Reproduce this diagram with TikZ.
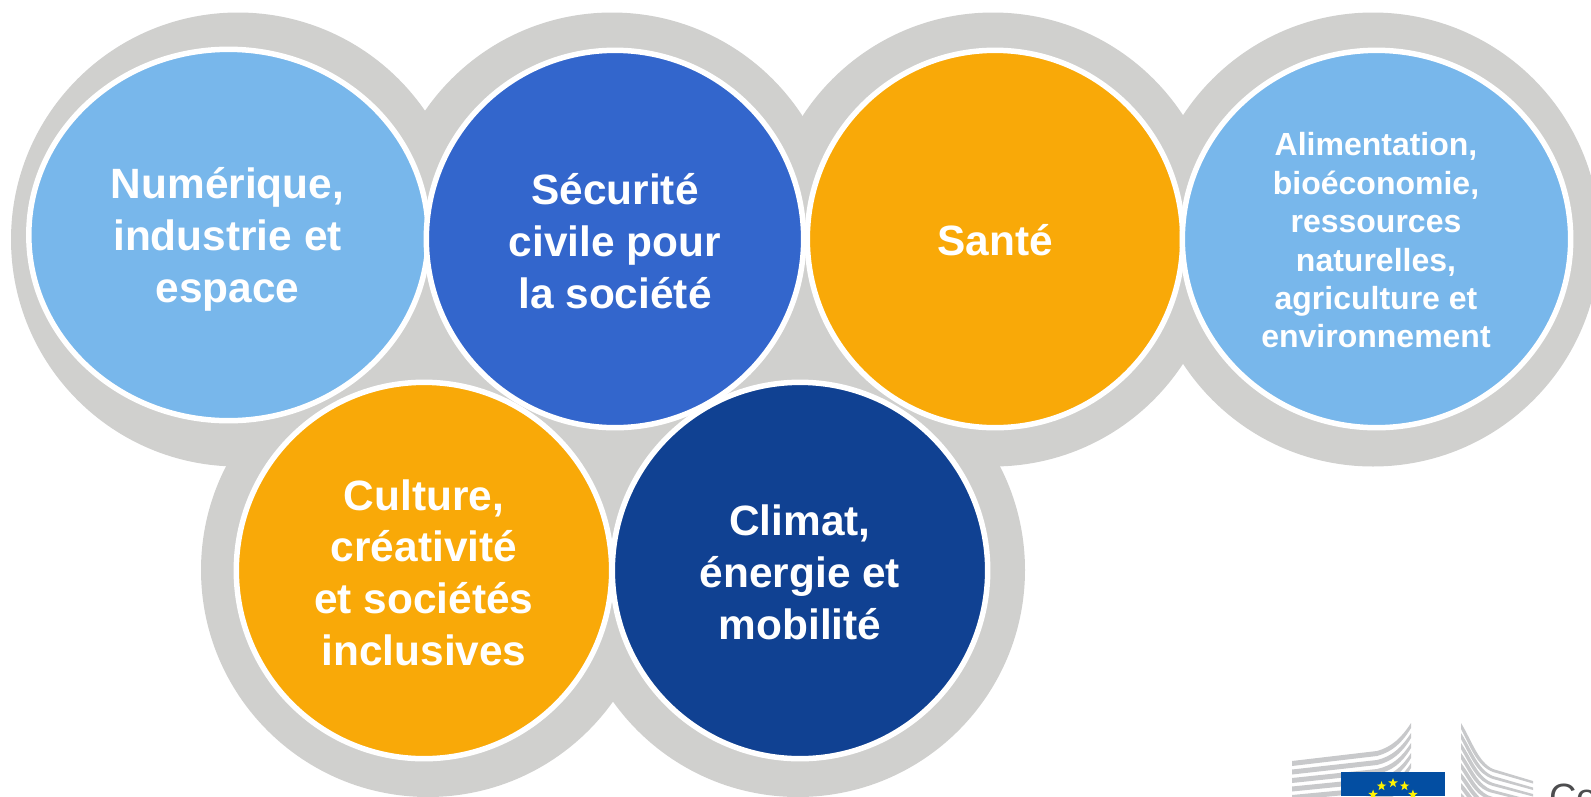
\documentclass[tikz,border=0pt]{standalone}
\usepackage{fontspec}
\setmainfont{Liberation Sans}
\usetikzlibrary{shapes.geometric}
\definecolor{ringgrey}{HTML}{D0D0CE}
\definecolor{skyblue}{HTML}{78B7EB}
\definecolor{midblue}{HTML}{3366CC}
\definecolor{amber}{HTML}{F9A908}
\definecolor{navy}{HTML}{104192}
\definecolor{eublue}{HTML}{034EA2}
\definecolor{eugrey}{HTML}{C8C9CB}
\definecolor{eutext}{HTML}{4D4D4F}
\tikzset{
  halo/.style={fill=ringgrey,draw=none},
  disc/.style={draw=white,line width=5.5pt},
  biglabel/.style={text=white,align=center,inner sep=0pt,font=\fontsize{42.4}{51.7}\selectfont\bfseries},
  smalllabel/.style={text=white,align=center,inner sep=0pt,font=\fontsize{32}{38.4}\selectfont\bfseries},
  eustar/.style={fill=yellow,draw=none,star,star points=5,star point ratio=2.5,minimum size=10pt,inner sep=0pt}
}
\begin{document}
\begin{tikzpicture}[x=1pt,y=-1pt]
\useasboundingbox (0,0) rectangle (1591,796);
\clip (0,0) rectangle (1591,796);
% grey haloes
\foreach \cx/\cy in {238/239.5,612/239.5,993/239.5,1373/239.5,428/570,798/570}
  \fill[halo] (\cx,\cy) circle [radius=227];
% discs
\draw[disc,fill=skyblue] (228.5,235) ellipse [x radius=199.7,y radius=185.7];
\draw[disc,fill=midblue] (615,239) ellipse [x radius=188.7,y radius=188.7];
\draw[disc,fill=amber] (995,239) ellipse [x radius=187.7,y radius=188.7];
\draw[disc,fill=skyblue] (1376.5,239) ellipse [x radius=194.2,y radius=188.7];
\draw[disc,fill=amber] (424,570.5) ellipse [x radius=187.7,y radius=188.2];
\draw[disc,fill=navy] (800,570.5) ellipse [x radius=187.7,y radius=188.2];
% labels
\node[biglabel] (t1) at (227.5,239.5) {Numérique,\\industrie et\\espace};
\node[biglabel] (t2) at (615,241) {Sécurité\\civile pour\\la société};
\node[biglabel] (t3) at (995,240) {Santé};
\node[smalllabel] (t4) at (1376,240.5) {Alimentation,\\bioéconomie,\\ressources\\naturelles,\\agriculture et\\environnement};
\node[biglabel] (t5) at (424,572.5) {Culture,\\créativité\\et sociétés\\inclusives};
\node[biglabel] (t6) at (800,572.5) {Climat,\\énergie et\\mobilité};
% logo left wing
\foreach \d in {0,...,5}
  \fill[eugrey] (1292,{761+8.5*\d}) -- (1377,{751+9*\d}) .. controls ({1392},{747+9.5*\d}) and ({1402},{737+10*\d}) .. (1411,{723+10*\d})
     -- (1411,{728+10*\d}) .. controls ({1402},{743+10*\d}) and ({1392},{752+9.5*\d}) .. (1377,{756+9*\d}) -- (1292,{766+8.5*\d}) -- cycle;
% logo right wing
\foreach \d in {0,...,7}
  \fill[eugrey] (1461,{723+10*\d}) .. controls (1472,{741+9*\d}) and (1478,{762+8*\d}) .. (1493,{769+7*\d}) -- (1533,{781+6.5*\d})
     -- (1533,{783.5+6.5*\d}) -- (1493,{772+7*\d}) .. controls (1477,{766+8*\d}) and (1471,{748+9*\d}) .. (1461,{729+10*\d}) -- cycle;
% logo flag
\fill[eublue] (1341,772) rectangle (1445,796);
\foreach \a [count=\i] in {-150,-120,-90,-60,-30}
  \node[eustar] (s\i) at ({1393+23*cos(\a)},{806+23*sin(\a)}) {};
\node[text=eutext,anchor=base west,inner sep=0pt,font=\fontsize{38}{38}\selectfont] (eu) at (1549,810) {Com};
\end{tikzpicture}
\end{document}
